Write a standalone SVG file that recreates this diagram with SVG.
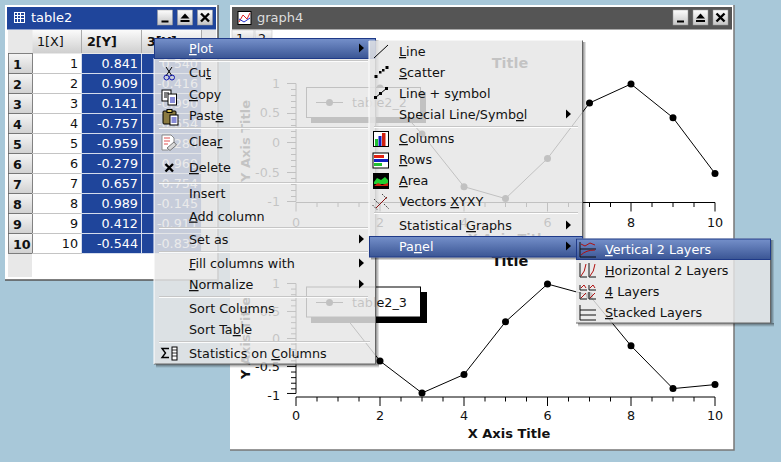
<svg xmlns="http://www.w3.org/2000/svg" xmlns:xlink="http://www.w3.org/1999/xlink" width="781" height="462" viewBox="0 0 781 462">
<style>
text{font-family:"DejaVu Sans",sans-serif;font-size:12.750px;fill:#111}
.r{text-anchor:end}.m{text-anchor:middle}
.b{font-weight:bold}
.w{fill:#fff}
.u{text-decoration:underline}
.mt{fill:#1c1c1c}
.ax{stroke:#000;stroke-width:1;fill:none}
.cur{stroke:#000;stroke-width:1;fill:none}
.rl{stroke:#c4c4c4;stroke-width:1}
.rb{stroke:#d4dcec;stroke-width:1}
.sep{stroke:#c6c6c6;stroke-width:1}
.sepw{stroke:#fff;stroke-width:1}
.menu{fill:#e6e6e6;fill-opacity:.84}
.hl{fill:url(#hl);stroke:#1f3a88;stroke-width:1}
.btn{fill:url(#btn);stroke:#9a9a9a;stroke-width:.5}
</style>
<defs>
<linearGradient id="hl" x1="0" y1="0" x2="0" y2="1"><stop offset="0" stop-color="#7590ca"/><stop offset="1" stop-color="#3a5594"/></linearGradient>
<linearGradient id="btn" x1="0" y1="0" x2="0" y2="1"><stop offset="0" stop-color="#fdfdfd"/><stop offset="1" stop-color="#c4c4c4"/></linearGradient>
<linearGradient id="hd" x1="0" y1="0" x2="0" y2="1"><stop offset="0" stop-color="#fbfbfb"/><stop offset="1" stop-color="#cfcfcf"/></linearGradient>
<linearGradient id="rh" x1="0" y1="0" x2="0" y2="1"><stop offset="0" stop-color="#f6f6f6"/><stop offset="1" stop-color="#d0d0d0"/></linearGradient>
<linearGradient id="sr" x1="0" y1="0" x2="1" y2="0"><stop offset="0" stop-color="#000" stop-opacity=".5"/><stop offset="1" stop-color="#000" stop-opacity="0"/></linearGradient>
<linearGradient id="sb" x1="0" y1="0" x2="0" y2="1"><stop offset="0" stop-color="#000" stop-opacity=".5"/><stop offset="1" stop-color="#000" stop-opacity="0"/></linearGradient>
<polygon id="arr" points="0,-4.5 5,0 0,4.5" fill="#000"/>
<circle id="pt" r="3.5" fill="#000"/>
<g id="bmin"><rect class="btn" x="0" y="0" width="15" height="15"/><rect x="4" y="10.5" width="7" height="2" fill="#000"/></g>
<g id="bmax"><rect class="btn" x="0" y="0" width="15" height="15"/><polygon points="7.5,3.5 12,8.5 3,8.5" fill="#000"/><rect x="3" y="10" width="9" height="2" fill="#000"/></g>
<g id="bcl"><rect class="btn" x="0" y="0" width="15" height="15"/><path d="M3.5 3.5L11.5 11.5M11.5 3.5L3.5 11.5" stroke="#000" stroke-width="2.4"/></g>
<g id="yt"><path class="ax" d="M296 0V118M287 0H296M291 6H296M291 12H296M291 18H296M291 24H296M287 30H296M291 36H296M291 42H296M291 48H296M291 54H296M287 59H296M291 65H296M291 71H296M291 77H296M291 83H296M287 89H296M291 95H296M291 101H296M291 107H296M291 113H296M287 118H296"/></g>
<g id="xt"><path class="ax" d="M296 0H715M296 0V9M317 0V4.500M338 0V4.500M359 0V4.500M380 0V9M401 0V4.500M422 0V4.500M443 0V4.500M464 0V9M485 0V4.500M505.500 0V4.500M526.500 0V4.500M547.500 0V9M568.500 0V4.500M589.500 0V4.500M610.500 0V4.500M631 0V9M652 0V4.500M673 0V4.500M694 0V4.500M715 0V9"/></g>
</defs>

<rect id="desktop" width="781" height="462" fill="#a8c8d9"/>

<g id="table2">
<rect x="5" y="5" width="213" height="275" fill="#fff"/>
<path d="M218 5V280H5" fill="none" stroke="#555" stroke-width="1.500"/>
<rect x="7" y="7" width="209" height="22.500" fill="#1f459b"/>
<g stroke="#fff" stroke-width="1" fill="none"><rect x="14.500" y="12.500" width="10" height="10"/><path d="M14.500 15.500H24.500M14.500 18.500H24.500M17.500 12.500V22.500M20.500 12.500V22.500"/></g>
<text class="w" x="31" y="22" style="font-size:13px">table2</text>
<use xlink:href="#bmin" x="157.500" y="10"/><use xlink:href="#bmax" x="177.500" y="10"/><use xlink:href="#bcl" x="197.500" y="10"/>
<rect x="8" y="30" width="208" height="24" fill="#e8e8e8"/>
<rect x="8" y="54" width="24" height="223" fill="#e8e8e8"/>
<rect x="202" y="54" width="14" height="199" fill="#e8e8e8"/>
<rect x="32.500" y="30" width="49" height="23" fill="url(#hd)"/>
<rect x="82" y="30" width="59" height="23" fill="url(#hd)"/>
<rect x="142" y="30" width="59" height="23" fill="url(#hd)"/>
<path d="M81.500 30V53M141.500 30V53M201.500 30V53" stroke="#aaa"/>
<rect x="82" y="54" width="120" height="199" fill="#1f459b"/>
<rect x="32" y="54" width="49" height="199" fill="#fff"/>
<text x="37" y="46">1[X]</text><text class="b" x="87" y="46">2[Y]</text><text class="b" x="147" y="46">3[Y]</text>
<g id="rowheads">
<rect x="8.500" y="53.500" width="24" height="20" fill="url(#rh)" stroke="#666" stroke-width=".8"/><rect x="8.500" y="73.500" width="24" height="20" fill="url(#rh)" stroke="#666" stroke-width=".8"/><rect x="8.500" y="93.500" width="24" height="20" fill="url(#rh)" stroke="#666" stroke-width=".8"/><rect x="8.500" y="113.500" width="24" height="20" fill="url(#rh)" stroke="#666" stroke-width=".8"/><rect x="8.500" y="133.500" width="24" height="20" fill="url(#rh)" stroke="#666" stroke-width=".8"/><rect x="8.500" y="153.500" width="24" height="20" fill="url(#rh)" stroke="#666" stroke-width=".8"/><rect x="8.500" y="173.500" width="24" height="20" fill="url(#rh)" stroke="#666" stroke-width=".8"/><rect x="8.500" y="193.500" width="24" height="20" fill="url(#rh)" stroke="#666" stroke-width=".8"/><rect x="8.500" y="213.500" width="24" height="20" fill="url(#rh)" stroke="#666" stroke-width=".8"/><rect x="8.500" y="233.500" width="24" height="20" fill="url(#rh)" stroke="#666" stroke-width=".8"/>
<text class="b" x="13" y="69">1</text><text class="b" x="13" y="89">2</text><text class="b" x="13" y="109">3</text><text class="b" x="13" y="129">4</text><text class="b" x="13" y="149">5</text><text class="b" x="13" y="169">6</text><text class="b" x="13" y="189">7</text><text class="b" x="13" y="209">8</text><text class="b" x="13" y="229">9</text><text class="b" x="13" y="249">10</text>
</g>
<path class="rl" d="M32 73.500H82M32 93.500H82M32 113.500H82M32 133.500H82M32 153.500H82M32 173.500H82M32 193.500H82M32 213.500H82M32 233.500H82M32 253.500H82"/>
<path class="rb" d="M82 73.500H202M82 93.500H202M82 113.500H202M82 133.500H202M82 153.500H202M82 173.500H202M82 193.500H202M82 213.500H202M82 233.500H202M82 253.500H202M81.500 54V253M141.500 54V253M201.500 54V253"/>
<g class="col1">
<text class="r" x="78" y="68">1</text><text class="r" x="78" y="88">2</text><text class="r" x="78" y="108">3</text><text class="r" x="78" y="128">4</text><text class="r" x="78" y="148">5</text><text class="r" x="78" y="168">6</text><text class="r" x="78" y="188">7</text><text class="r" x="78" y="208">8</text><text class="r" x="78" y="228">9</text><text class="r" x="78" y="248">10</text>
</g>
<g class="col2">
<text class="r w" x="138" y="68">0.841</text><text class="r w" x="138" y="88">0.909</text><text class="r w" x="138" y="108">0.141</text><text class="r w" x="138" y="128">-0.757</text><text class="r w" x="138" y="148">-0.959</text><text class="r w" x="138" y="168">-0.279</text><text class="r w" x="138" y="188">0.657</text><text class="r w" x="138" y="208">0.989</text><text class="r w" x="138" y="228">0.412</text><text class="r w" x="138" y="248">-0.544</text>
</g>
<g class="col3">
<text class="r w" x="198" y="68">0.540</text><text class="r w" x="198" y="88">-0.416</text><text class="r w" x="198" y="108">-0.990</text><text class="r w" x="198" y="128">-0.654</text><text class="r w" x="198" y="148">0.284</text><text class="r w" x="198" y="168">0.960</text><text class="r w" x="198" y="188">0.754</text><text class="r w" x="198" y="208">-0.145</text><text class="r w" x="198" y="228">-0.911</text><text class="r w" x="198" y="248">-0.839</text>
</g>
</g>

<g id="graph4">
<rect x="230" y="5" width="504" height="445" fill="#fff"/>
<path d="M734 5V450H230" fill="none" stroke="#777" stroke-width="1.500"/>
<rect x="232" y="7" width="500" height="22.500" fill="#555"/>
<g><rect x="238" y="11.500" width="13" height="13" fill="#fff" stroke="#000"/><path d="M239 22L243 15L247 19L250 13" stroke="#e02020" fill="none"/><path d="M239 19L244 22L250 18" stroke="#2030d0" fill="none"/></g>
<text x="257" y="22" style="fill:#ddd;font-size:13px">graph4</text>
<use xlink:href="#bmin" x="673" y="10"/><use xlink:href="#bmax" x="693" y="10"/><use xlink:href="#bcl" x="713" y="10"/>
<rect x="232" y="30" width="22" height="14" fill="url(#hd)" stroke="#bbb" stroke-width=".5"/><rect x="255" y="30" width="17" height="14" fill="url(#hd)" stroke="#bbb" stroke-width=".5"/>
<text class="m" x="240" y="43">1</text><text class="m" x="262" y="43">2</text>

<g id="plot-top">
<text class="m b" x="510" y="67.500" style="font-size:14.500px">Title</text>
<polyline class="cur" points="338,92.400 380,88 422,134 464,186.700 505.500,198.600 547.500,158.500 589.500,103 631,84 673,117.700 715,173.500"/>
<use xlink:href="#pt" x="338" y="92.400"/><use xlink:href="#pt" x="380" y="88"/><use xlink:href="#pt" x="422" y="134"/><use xlink:href="#pt" x="464" y="186.700"/><use xlink:href="#pt" x="505.500" y="198.600"/><use xlink:href="#pt" x="547.500" y="158.500"/><use xlink:href="#pt" x="589.500" y="103"/><use xlink:href="#pt" x="631" y="84"/><use xlink:href="#pt" x="673" y="117.700"/><use xlink:href="#pt" x="715" y="173.500"/>
<use xlink:href="#yt" y="83.500"/>
<use xlink:href="#xt" y="202.500"/>
<text class="r" x="280" y="88">1</text><text class="r" x="280" y="117">0.5</text><text class="r" x="280" y="147">0</text><text class="r" x="280" y="177">-0.5</text><text class="r" x="280" y="206">-1</text>
<text class="m" x="296" y="226.500">0</text><text class="m" x="380" y="226.500">2</text><text class="m" x="464" y="226.500">4</text><text class="m" x="547.500" y="226.500">6</text><text class="m" x="631" y="226.500">8</text><text class="m" x="715" y="226.500">10</text>
<text class="m b" x="509" y="243" style="font-size:13px">X Axis Title</text>
<text class="m b" transform="translate(250 141) rotate(-90)" style="font-size:13px">Y Axis Title</text>
<rect x="311" y="92" width="115" height="31" fill="#000"/>
<rect x="306.500" y="87.500" width="114" height="30" fill="#fff" stroke="#000"/>
<path d="M316 102.500H343" stroke="#000"/><use xlink:href="#pt" x="329.500" y="102.500"/>
<text x="352" y="107">table2_2</text>
</g>

<g id="plot-bottom">
<text class="m b" x="510" y="266" style="font-size:14.500px">Title</text>
<polyline class="cur" points="338,307.500 380,361 422,393 464,374.500 505.500,321.800 547.500,284 589.500,295.500 631,345.800 673,388.600 715,384.600"/>
<use xlink:href="#pt" x="380" y="361"/><use xlink:href="#pt" x="422" y="393"/><use xlink:href="#pt" x="464" y="374.500"/><use xlink:href="#pt" x="505.500" y="321.800"/><use xlink:href="#pt" x="547.500" y="284"/><use xlink:href="#pt" x="589.500" y="295.500"/><use xlink:href="#pt" x="631" y="345.800"/><use xlink:href="#pt" x="673" y="388.600"/><use xlink:href="#pt" x="715" y="384.600"/>
<g transform="translate(0 283.500) scale(1 .932)"><use xlink:href="#yt"/></g>
<use xlink:href="#xt" y="397"/>
<text class="r" x="280" y="288">1</text><text class="r" x="280" y="316">0.5</text><text class="r" x="280" y="343">0</text><text class="r" x="280" y="371">-0.5</text><text class="r" x="280" y="399.500">-1</text>
<text class="m" x="296" y="420">0</text><text class="m" x="380" y="420">2</text><text class="m" x="464" y="420">4</text><text class="m" x="547.500" y="420">6</text><text class="m" x="631" y="420">8</text><text class="m" x="715" y="420">10</text>
<text class="m b" x="509" y="437.500" style="font-size:13px">X Axis Title</text>
<text class="m b" transform="translate(250 338) rotate(-90)" style="font-size:13px">Y Axis Title</text>
<rect x="311" y="292" width="116" height="31" fill="#000"/>
<rect x="306.500" y="287" width="114" height="30" fill="#fff" stroke="#000"/>
<path d="M316 302.500H343" stroke="#000"/><use xlink:href="#pt" x="329.500" y="302.500"/>
<text x="352" y="307">table2_3</text>
</g>
</g>

<g id="menu-main">
<rect class="menu" x="154" y="38" width="221.500" height="326"/>
<rect x="375.500" y="40" width="4" height="324" fill="url(#sr)"/>
<rect x="156" y="364" width="223" height="4" fill="url(#sb)"/>
<path d="M375.500 58V364H154" fill="none" stroke="#666" stroke-width="1"/>
<path d="M154 364V58" stroke="#fff"/>
<rect class="hl" x="154.500" y="38.500" width="221" height="20"/>
<text class="w" x="189" y="53"><tspan class="u">P</tspan>lot</text>
<use xlink:href="#arr" x="359" y="48"/>
<path class="sepw" d="M159 61.500H368M159 128.500H368M159 183.500H368M159 228.500H368M159 252.500H368M159 297.500H368M159 342.500H370" opacity=".9"/>
<path class="sep" d="M159 60.500H368M159 127.500H368M159 182.500H368M159 227.500H368M159 251.500H368M159 296.500H368M159 341.500H370"/>
<g class="mt">
<text x="189" y="77">Cu<tspan class="u">t</tspan></text>
<text x="189" y="99"><tspan class="u">C</tspan>opy</text>
<text x="189" y="120">Past<tspan class="u">e</tspan></text>
<text x="189" y="146">Clea<tspan class="u">r</tspan></text>
<text x="189" y="172"><tspan class="u">D</tspan>elete</text>
<text x="189" y="198">Insert</text>
<text x="189" y="220.500"><tspan class="u">A</tspan>dd column</text>
<text x="189" y="244">Set as</text>
<text x="189" y="268"><tspan class="u">F</tspan>ill columns with</text>
<text x="189" y="289"><tspan class="u">N</tspan>ormalize</text>
<text x="189" y="313">Sort Columns</text>
<text x="189" y="334">Sort Ta<tspan class="u">b</tspan>le</text>
<text x="189" y="358">Statistics on <tspan class="u">C</tspan>olumns</text>
</g>
<use xlink:href="#arr" x="359" y="239"/><use xlink:href="#arr" x="359" y="263"/><use xlink:href="#arr" x="359" y="284"/>
<g id="ico-cut" fill="none"><path d="M166 67L172 76M172 67L166 76" stroke="#000"/><circle cx="166.500" cy="77.500" r="2.500" stroke="#1018b0"/><circle cx="172" cy="77.500" r="2.500" stroke="#1018b0"/></g>
<g id="ico-copy"><rect x="162" y="90" width="9" height="11" fill="#fff" stroke="#000"/><rect x="168" y="94" width="8.500" height="11" fill="#fff" stroke="#000"/><path d="M170 98H175M170 100H175M170 102H175" stroke="#1018b0"/><path d="M164 93H169M164 95H167M164 97H167" stroke="#000"/></g>
<g id="ico-paste"><rect x="163" y="111" width="13" height="13" rx="1" fill="#8a7a40" stroke="#000"/><rect x="167" y="109.500" width="5" height="3" fill="#d8c050" stroke="#000"/><rect x="170" y="115" width="8" height="10" fill="#fff" stroke="#000"/><path d="M171.500 118H176.500M171.500 120H176.500M171.500 122H176.500" stroke="#1018b0"/></g>
<g id="ico-clear"><path d="M162 135H171L174 138V146L168 150H162Z" fill="#fff" stroke="#888"/><path d="M164 138H170M164 141H170M164 144H168" stroke="#e05050"/><path d="M167 148L174 142L176.500 145L170 150.500Z" fill="#d8d8d8" stroke="#777"/></g>
<path id="ico-delete" d="M165.500 164L173 171.500M173 164L165.500 171.500" stroke="#000" stroke-width="2.400"/>
<g id="ico-stats"><path d="M169 348.500H162L165.500 353L162 357.500H169" fill="none" stroke="#000" stroke-width="1.400"/><rect x="172" y="347" width="5" height="13" fill="#fff" stroke="#000"/><path d="M172 350H177M172 353H177M172 356H177" stroke="#000" stroke-width=".8"/></g>
</g>

<g id="menu-plot">
<rect class="menu" x="369" y="40.500" width="213.500" height="217"/>
<rect x="582.500" y="42" width="4" height="215" fill="url(#sr)"/>
<rect x="371" y="257.500" width="215" height="3" fill="url(#sb)"/>
<path d="M582.500 40.500V236" fill="none" stroke="#666"/>
<rect class="hl" x="369.500" y="236.500" width="213" height="20.500"/>
<path d="M369 41V236" stroke="#fff"/>
<path class="sep" d="M374 126.500H578M374 212.500H578"/>
<path class="sepw" d="M374 127.500H578M374 213.500H578"/>
<g class="mt">
<text x="399" y="56"><tspan class="u">L</tspan>ine</text>
<text x="399" y="77"><tspan class="u">S</tspan>catter</text>
<text x="399" y="98">Line + s<tspan class="u">y</tspan>mbol</text>
<text x="399" y="119">Special Line/Symb<tspan class="u">o</tspan>l</text>
<text x="399" y="143"><tspan class="u">C</tspan>olumns</text>
<text x="399" y="164"><tspan class="u">R</tspan>ows</text>
<text x="399" y="185"><tspan class="u">A</tspan>rea</text>
<text x="399" y="206">Vectors <tspan class="u">X</tspan>YXY</text>
<text x="399" y="230">Statistical <tspan class="u">G</tspan>raphs</text>
</g>
<text class="w" x="399" y="251">Pa<tspan class="u">n</tspan>el</text>
<use xlink:href="#arr" x="566" y="114"/><use xlink:href="#arr" x="566" y="225"/><use xlink:href="#arr" x="566" y="246"/>
<path id="ico-line" d="M374 58L388 45" stroke="#000"/>
<g id="ico-scatter" fill="#000"><rect x="374.500" y="75" width="3" height="3"/><rect x="379" y="71" width="2.500" height="2.500"/><rect x="382" y="69" width="2.500" height="2.500"/><rect x="385.500" y="66" width="3" height="3"/></g>
<g id="ico-ls"><path d="M375 98L387 88" stroke="#000"/><rect x="374" y="96" width="3" height="3" fill="#000"/><rect x="379" y="92" width="3" height="3" fill="#000"/><rect x="385" y="87" width="3" height="3" fill="#000"/></g>
<g id="ico-col"><rect x="373.500" y="131.500" width="15" height="15" fill="#fff" stroke="#000"/><rect x="375" y="139" width="3" height="7" fill="#20c030"/><rect x="378.500" y="136" width="3" height="10" fill="#1020c0"/><rect x="382" y="133" width="3.500" height="13" fill="#d02010"/></g>
<g id="ico-rows"><rect x="373" y="153" width="15.500" height="15" fill="#fff" stroke="#000"/><rect x="374" y="155" width="10" height="3" fill="#e02010"/><rect x="374" y="159" width="14" height="3" fill="#1020c0"/><rect x="374" y="163" width="8" height="3" fill="#20c030"/></g>
<g id="ico-area"><rect x="373" y="173" width="16" height="16" fill="#000"/><path d="M374 182L377 178L381 180L385 177L388 180V184H374Z" fill="#20d030"/><path d="M374 186L378 183L382 185L388 183V186H374Z" fill="#d02010"/></g>
<g id="ico-vec" fill="none"><path d="M376 208L387 197" stroke="#8a1010"/><path d="M374 199L379 204M384 204L389 209M372.500 205L377.500 210M382 194L387 199" stroke="#444" stroke-dasharray="1.500 1"/></g>
</g>

<g id="menu-panel">
<rect class="menu" x="576" y="238.500" width="194.500" height="84.500"/>
<rect x="770.500" y="240" width="4" height="83" fill="url(#sr)"/>
<rect x="578" y="323" width="196" height="4" fill="url(#sb)"/>
<path d="M770.500 259V323H576" fill="none" stroke="#666"/>
<rect class="hl" x="576.500" y="239" width="194" height="20.500"/>
<text class="w" x="605" y="254"><tspan class="u">V</tspan>ertical 2 Layers</text>
<g class="mt">
<text x="605" y="275"><tspan class="u">H</tspan>orizontal 2 Layers</text>
<text x="605" y="296"><tspan class="u">4</tspan> Layers</text>
<text x="605" y="317"><tspan class="u">S</tspan>tacked Layers</text>
</g>
<g id="ico-v2" fill="none"><path d="M580 249H596M580 257H596M580 242V257" stroke="#111"/><path d="M581 244L585 246L590 243L595 245" stroke="#b01010"/><path d="M581 255Q586 250 595 250" stroke="#b01010"/></g>
<g id="ico-h2" fill="none"><path d="M580 263V277H587M589 263V277H596" stroke="#111"/><path d="M581 276Q585 272 586 264M590 276Q594 272 595 264" stroke="#b01010"/></g>
<g id="ico-4" fill="none"><path d="M580 285V290H587M589 285V290H596M580 292V299H587M589 292V299H596" stroke="#111"/><path d="M581 288L584 285L586 288M590 288L593 285L595 288M581 298L586 293M590 298L595 293" stroke="#b01010"/></g>
<g id="ico-s" fill="none"><path d="M580 305V320H596M580 310H596M580 315H596" stroke="#111"/></g>
</g>
</svg>
